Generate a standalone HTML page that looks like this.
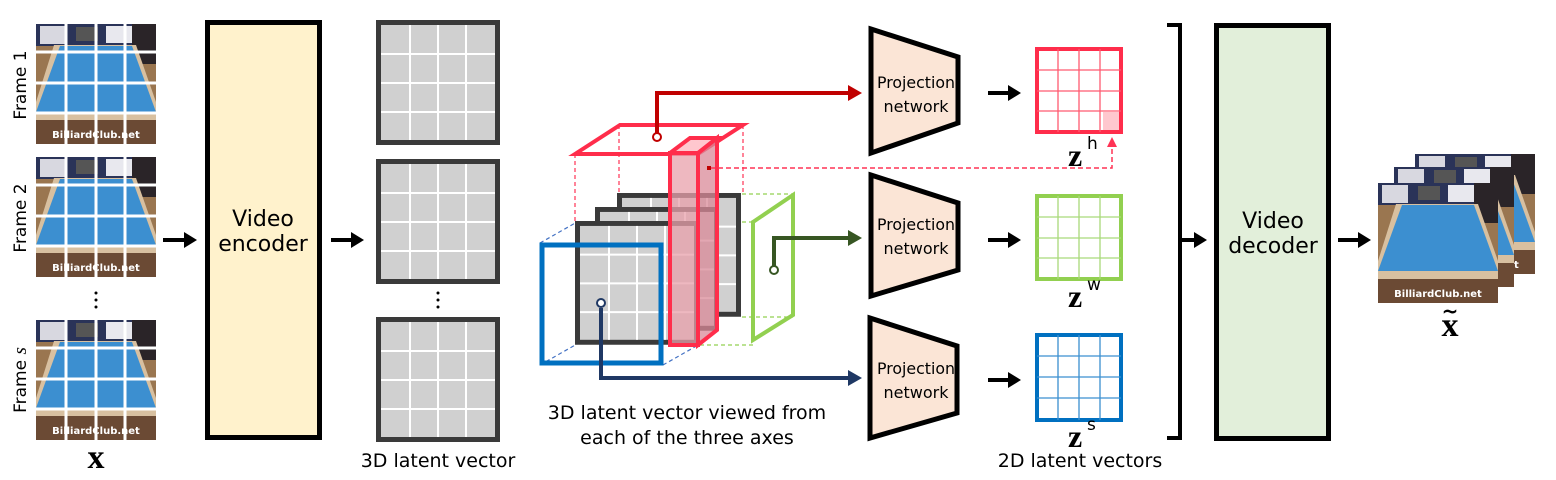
<!DOCTYPE html>
<html><head><meta charset="utf-8"><style>
html,body{margin:0;padding:0;background:#fff;}
svg{display:block;}
text{font-family:"DejaVu Sans","Liberation Sans",sans-serif;}
.m{font-family:"Liberation Serif",serif;font-weight:bold;}
</style></head><body>
<svg width="1556" height="480" viewBox="0 0 1556 480" xmlns="http://www.w3.org/2000/svg">
<defs>
<g id="fr">
  <rect x="0" y="0" width="120" height="120" fill="#9a7650"/>
  <rect x="0" y="0" width="120" height="22" fill="#2a3358"/>
  <rect x="4" y="2" width="26" height="18" fill="#d8d8e0"/>
  <rect x="40" y="3" width="22" height="14" fill="#555"/>
  <rect x="70" y="2" width="28" height="17" fill="#e8e8ee"/>
  <rect x="96" y="0" width="24" height="40" fill="#2a2428"/>
  <polygon points="18,21 100,21 120,78 120,96 0,96 0,78" fill="#d8c0a0"/>
  <polygon points="24,22 96,22 120,88 0,88" fill="#3c8fd0"/>
  <rect x="0" y="96" width="120" height="24" fill="#6b4a34"/>
  <text x="60" y="114" font-size="10" font-weight="bold" fill="#fff" text-anchor="middle" font-family="Liberation Sans,sans-serif">BilliardClub.net</text>
</g>
<g id="grd" stroke="#fff" stroke-width="3">
  <line x1="30" y1="0" x2="30" y2="120"/><line x1="60" y1="0" x2="60" y2="120"/><line x1="89" y1="0" x2="89" y2="120"/>
  <line x1="0" y1="28" x2="120" y2="28"/><line x1="0" y1="59" x2="120" y2="59"/><line x1="0" y1="89" x2="120" y2="89"/>
</g>
<g id="lat">
  <rect x="2.5" y="2.5" width="119" height="120" fill="#d0d0d0" stroke="#3a3a3a" stroke-width="5"/>
  <g stroke="#fff" stroke-width="2">
    <line x1="34" y1="5" x2="34" y2="120"/><line x1="62" y1="5" x2="62" y2="120"/><line x1="90" y1="5" x2="90" y2="120"/>
    <line x1="5" y1="34" x2="119" y2="34"/><line x1="5" y1="63" x2="119" y2="63"/><line x1="5" y1="92" x2="119" y2="92"/>
  </g>
</g>
</defs>

<g transform="translate(36,24)"><use href="#fr"/><use href="#grd"/></g>
<g transform="translate(36,157)"><use href="#fr"/><use href="#grd"/></g>
<g transform="translate(36,320)"><use href="#fr"/><use href="#grd"/></g>
<text transform="translate(26,85) rotate(-90)" font-size="17" text-anchor="middle">Frame 1</text>
<text transform="translate(26,218) rotate(-90)" font-size="17" text-anchor="middle">Frame 2</text>
<text transform="translate(26,380) rotate(-90)" font-size="17" text-anchor="middle">Frame <tspan font-style="italic" font-family="Liberation Serif,serif" font-size="19">s</tspan></text>
<g fill="#000"><circle cx="96" cy="293" r="1.5"/><circle cx="96" cy="300" r="1.5"/><circle cx="96" cy="307" r="1.5"/></g>
<text x="96" y="468" font-size="34" class="m" text-anchor="middle">x</text>

<g stroke="#000" stroke-width="4">
<line x1="163" y1="240" x2="186" y2="240"/><line x1="331" y1="240" x2="353" y2="240"/>
<line x1="988" y1="93" x2="1010" y2="93"/><line x1="988" y1="240" x2="1010" y2="240"/><line x1="988" y1="380" x2="1010" y2="380"/>
<line x1="1182" y1="240" x2="1196" y2="240"/><line x1="1338" y1="240" x2="1360" y2="240"/>
</g>
<g fill="#000">
<polygon points="184,232 197,240 184,248"/><polygon points="351,232 364,240 351,248"/>
<polygon points="1008,85 1021,93 1008,101"/><polygon points="1008,232 1021,240 1008,248"/><polygon points="1008,372 1021,380 1008,388"/>
<polygon points="1194,232 1207,240 1194,248"/><polygon points="1358,232 1371,240 1358,248"/>
</g>

<rect x="207.5" y="22.5" width="112" height="415" fill="#fff2cc" stroke="#000" stroke-width="5"/>
<text x="263" y="226" font-size="22" text-anchor="middle">Video</text>
<text x="263" y="251" font-size="22" text-anchor="middle">encoder</text>

<g transform="translate(376,20)"><use href="#lat"/></g>
<g transform="translate(376,159)"><use href="#lat"/></g>
<g transform="translate(376,317)"><use href="#lat"/></g>
<g fill="#000"><circle cx="438" cy="293" r="1.5"/><circle cx="438" cy="300" r="1.5"/><circle cx="438" cy="307" r="1.5"/></g>
<text x="438" y="467" font-size="19" text-anchor="middle">3D latent vector</text>

<g stroke-width="1.2" stroke-dasharray="4,3" fill="none">
  <line x1="575" y1="154" x2="575" y2="222" stroke="#ff3355"/>
  <line x1="619" y1="125" x2="619" y2="193" stroke="#ff3355"/>
  <line x1="743" y1="125" x2="743" y2="193" stroke="#ff3355"/>
  <line x1="540" y1="243" x2="577" y2="222" stroke="#4472c4"/>
  <line x1="663" y1="243" x2="700" y2="222" stroke="#4472c4"/>
  <line x1="540" y1="365" x2="577" y2="344" stroke="#4472c4"/>
  <line x1="663" y1="365" x2="700" y2="344" stroke="#4472c4"/>
  <line x1="742" y1="194" x2="793" y2="194" stroke="#92d050"/>
  <line x1="700" y1="222" x2="753" y2="222" stroke="#92d050"/>
  <line x1="742" y1="317" x2="793" y2="317" stroke="#92d050"/>
  <line x1="700" y1="345" x2="753" y2="345" stroke="#92d050"/>
</g>
<g transform="translate(617,193) scale(1,0.99)"><use href="#lat"/></g>
<g transform="translate(595,207) scale(1,0.99)"><use href="#lat"/></g>
<g transform="translate(575,221) scale(1,0.99)"><use href="#lat"/></g>
<polygon points="575,154 620,125 743,125 698,154" fill="none" stroke="#ff2d4b" stroke-width="4"/>
<polygon points="698,153 717,138 717,330 698,345" fill="#d98a98" fill-opacity="0.75" stroke="#ff2d4b" stroke-width="4"/>
<polygon points="670,153 690,138 717,138 698,153" fill="#ffc7ce" stroke="#ff2d4b" stroke-width="4"/>
<rect x="670" y="153" width="28" height="192" fill="#e8a0ab" fill-opacity="0.75" stroke="#ff2d4b" stroke-width="4"/>
<polygon points="753,222 793,195 793,315 753,340" fill="none" stroke="#92d050" stroke-width="4"/>
<rect x="542" y="245" width="119" height="118" fill="none" stroke="#0070c0" stroke-width="5"/>
<polyline points="657,133 657,93 850,93" fill="none" stroke="#c00000" stroke-width="4"/>
<polygon points="848,85 862,93 848,101" fill="#c00000"/>
<polyline points="774,266 774,238 850,238" fill="none" stroke="#375623" stroke-width="4"/>
<polygon points="848,230 862,238 848,246" fill="#375623"/>
<polyline points="601,308 601,378 850,378" fill="none" stroke="#1f3864" stroke-width="4"/>
<polygon points="848,370 862,378 848,386" fill="#1f3864"/>
<polyline points="710,168 1112,168 1112,145" fill="none" stroke="#ff3355" stroke-width="1.5" stroke-dasharray="5,3"/>
<polygon points="1107,147 1112,137 1117,147" fill="#ff3355"/>
<rect x="707" y="166" width="4" height="4" fill="#c00000"/>
<circle cx="657" cy="137" r="4" fill="#fff" stroke="#c00000" stroke-width="2"/>
<circle cx="774" cy="270" r="4" fill="#fff" stroke="#375623" stroke-width="2"/>
<circle cx="601" cy="303" r="4" fill="#fff" stroke="#1f3864" stroke-width="2"/>
<text x="687" y="419" font-size="19" text-anchor="middle">3D latent vector viewed from</text>
<text x="687" y="444" font-size="19" text-anchor="middle">each of the three axes</text>

<g fill="#fbe5d6" stroke="#000" stroke-width="5" stroke-linejoin="miter">
<polygon points="871,29 958,57 958,123 871,153"/>
<polygon points="871,175 958,203 958,270 871,296"/>
<polygon points="870,318 957,346 957,413 870,438"/>
</g>
<g font-size="16" text-anchor="middle">
<text x="916" y="88" textLength="78" lengthAdjust="spacingAndGlyphs">Projection</text><text x="916" y="112">network</text>
<text x="916" y="230" textLength="78" lengthAdjust="spacingAndGlyphs">Projection</text><text x="916" y="254">network</text>
<text x="916" y="374" textLength="78" lengthAdjust="spacingAndGlyphs">Projection</text><text x="916" y="398">network</text>
</g>

<rect x="1103" y="112" width="17" height="19" fill="#ffc7ce"/>
<g fill="none" stroke-width="4">
<rect x="1037" y="49" width="84" height="83" stroke="#ff2d4b"/>
<rect x="1037" y="196" width="84" height="83" stroke="#92d050"/>
<rect x="1037" y="335" width="84" height="85" stroke="#0070c0"/>
</g>
<g stroke-width="1.3">
<g stroke="#ff5a70"><line x1="1058" y1="49" x2="1058" y2="132"/><line x1="1079" y1="49" x2="1079" y2="132"/><line x1="1100" y1="49" x2="1100" y2="132"/><line x1="1037" y1="70" x2="1121" y2="70"/><line x1="1037" y1="91" x2="1121" y2="91"/><line x1="1037" y1="111" x2="1121" y2="111"/></g>
<g stroke="#a9d97a"><line x1="1058" y1="196" x2="1058" y2="279"/><line x1="1079" y1="196" x2="1079" y2="279"/><line x1="1100" y1="196" x2="1100" y2="279"/><line x1="1037" y1="217" x2="1121" y2="217"/><line x1="1037" y1="238" x2="1121" y2="238"/><line x1="1037" y1="258" x2="1121" y2="258"/></g>
<g stroke="#3a8fd0"><line x1="1058" y1="335" x2="1058" y2="420"/><line x1="1079" y1="335" x2="1079" y2="420"/><line x1="1100" y1="335" x2="1100" y2="420"/><line x1="1037" y1="356" x2="1121" y2="356"/><line x1="1037" y1="377" x2="1121" y2="377"/><line x1="1037" y1="398" x2="1121" y2="398"/></g>
</g>
<text x="1068" y="166" class="m" font-size="32">z</text><text x="1087" y="149" font-family="Liberation Mono,monospace" font-size="17">h</text>
<text x="1068" y="307" class="m" font-size="32">z</text><text x="1087" y="290" font-family="Liberation Mono,monospace" font-size="17">w</text>
<text x="1068" y="447" class="m" font-size="32">z</text><text x="1087" y="430" font-family="Liberation Mono,monospace" font-size="17">s</text>
<text x="1080" y="467" font-size="19" text-anchor="middle">2D latent vectors</text>

<polyline points="1167,25 1180,25 1180,438 1167,438" fill="none" stroke="#000" stroke-width="4"/>

<rect x="1216.5" y="25.5" width="112" height="413" fill="#e2efda" stroke="#000" stroke-width="5"/>
<text x="1273" y="228" font-size="22" text-anchor="middle">Video</text>
<text x="1273" y="253" font-size="22" text-anchor="middle">decoder</text>

<g transform="translate(1415,154)"><use href="#fr"/></g>
<g transform="translate(1394,167)"><use href="#fr"/></g>
<g transform="translate(1378,183)"><use href="#fr"/></g>
<text x="1450" y="336" class="m" font-size="34" text-anchor="middle">x</text>
<text x="1450" y="318" font-size="20" text-anchor="middle" font-weight="bold">~</text>
</svg>
</body></html>
